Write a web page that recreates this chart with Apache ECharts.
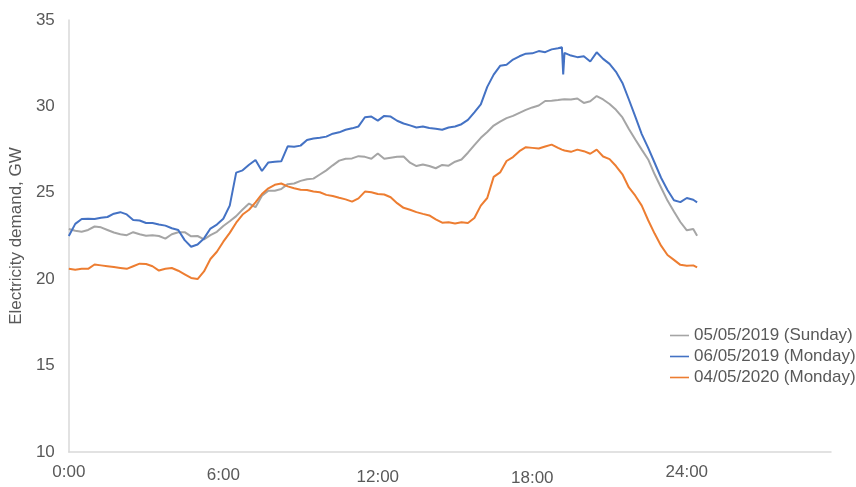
<!DOCTYPE html>
<html>
<head>
<meta charset="utf-8">
<script src="https://cdn.jsdelivr.net/npm/echarts@6/dist/echarts.min.js"></script>
<style>
  html, body { margin: 0; padding: 0; background: #ffffff; }
  #chart { width: 856px; height: 487px; }
</style>
</head>
<body>
<div id="chart"></div>
<script>
// Time of day in hours (quarter-hour readings, with extra samples around the 19:10 dip)
const hours = [
  0, 0.25, 0.5, 0.75, 1, 1.25, 1.5, 1.75, 2, 2.25, 2.5, 2.75, 3, 3.25, 3.5, 3.75,
  4, 4.25, 4.5, 4.75, 5, 5.25, 5.5, 5.75, 6, 6.25, 6.5, 6.75, 7, 7.25, 7.5, 7.75,
  8, 8.25, 8.5, 8.75, 9, 9.25, 9.5, 9.75, 10, 10.25, 10.5, 10.75, 11, 11.25, 11.5, 11.75,
  12, 12.25, 12.5, 12.75, 13, 13.25, 13.5, 13.75, 14, 14.25, 14.5, 14.75, 15, 15.25, 15.5, 15.75,
  16, 16.25, 16.5, 16.75, 17, 17.25, 17.5, 17.75, 18, 18.25, 18.5, 18.75,
  19, 19.15, 19.2, 19.25,
  19.5, 19.75, 20, 20.25, 20.5, 20.75, 21, 21.25, 21.5, 21.75, 22, 22.25, 22.5, 22.75,
  23, 23.25, 23.5, 23.75, 24, 24.25,
  24.4
];

// Electricity demand, GW
const sunday2019 = [
  22.9, 22.8, 22.75, 22.85, 23.05, 23.0, 22.85, 22.7, 22.6, 22.55, 22.72, 22.6, 22.52, 22.55, 22.5, 22.35,
  22.6, 22.72, 22.72, 22.48, 22.5, 22.3, 22.55, 22.74, 23.08, 23.35, 23.65, 24.03, 24.38, 24.17, 24.83, 25.12,
  25.12, 25.22, 25.5, 25.54, 25.69, 25.78, 25.82, 26.06, 26.3, 26.59, 26.86, 26.97, 26.99, 27.12, 27.08, 26.97,
  27.28, 26.97, 27.03, 27.09, 27.1, 26.74, 26.55, 26.64, 26.55, 26.42, 26.61, 26.57, 26.8, 26.93, 27.32, 27.76,
  28.18, 28.52, 28.89, 29.12, 29.32, 29.45, 29.63, 29.8, 29.94, 30.05, 30.31, 30.33,
  30.37, 30.4, 30.4, 30.42,
  30.4, 30.46, 30.2, 30.3, 30.6, 30.4, 30.14, 29.8, 29.36, 28.69, 28.08, 27.5, 26.93, 26.07,
  25.31, 24.55, 23.92, 23.31, 22.83, 22.9,
  22.51
];

const monday2019 = [
  22.5, 23.2, 23.48, 23.5, 23.48, 23.56, 23.6, 23.79, 23.88, 23.75, 23.43, 23.4, 23.25, 23.25, 23.17, 23.1,
  22.95, 22.85, 22.26, 21.88, 22.01, 22.36, 22.93, 23.16, 23.5, 24.26, 26.17, 26.3, 26.62, 26.9, 26.26, 26.76,
  26.8, 26.82, 27.69, 27.66, 27.73, 28.05, 28.14, 28.18, 28.25, 28.42, 28.5, 28.65, 28.73, 28.84, 29.37, 29.41,
  29.18, 29.45, 29.41, 29.17, 29.01, 28.9, 28.78, 28.84, 28.75, 28.71, 28.65, 28.78, 28.84, 28.97, 29.22, 29.66,
  30.12, 31.13, 31.84, 32.35, 32.41, 32.71, 32.9, 33.05, 33.07, 33.2, 33.14, 33.3,
  33.37, 33.42, 31.85, 33.1,
  32.94, 32.85, 32.9, 32.6, 33.13, 32.75, 32.46, 32.0, 31.36, 30.4, 29.41, 28.4, 27.6, 26.74,
  25.87, 25.16, 24.57, 24.46, 24.7, 24.6,
  24.45
];

const monday2020 = [
  20.6, 20.55, 20.6, 20.6, 20.85, 20.8, 20.75, 20.7, 20.65, 20.6, 20.75, 20.9, 20.88, 20.75, 20.5, 20.6,
  20.65, 20.49, 20.28, 20.07, 20.01, 20.45, 21.17, 21.59, 22.17, 22.68, 23.27, 23.74, 24.02, 24.45, 24.93, 25.26,
  25.46, 25.54, 25.37, 25.26, 25.18, 25.16, 25.07, 25.03, 24.88, 24.81, 24.71, 24.62, 24.49, 24.68, 25.07, 25.03,
  24.93, 24.9, 24.74, 24.4, 24.13, 24.02, 23.88, 23.78, 23.69, 23.46, 23.27, 23.29, 23.22, 23.29, 23.25, 23.54,
  24.26, 24.7, 25.92, 26.18, 26.84, 27.07, 27.41, 27.64, 27.6, 27.56, 27.68, 27.79,
  27.6, 27.5, 27.47, 27.45,
  27.37, 27.5, 27.41, 27.26, 27.5, 27.1, 26.95, 26.55, 26.07, 25.31, 24.83, 24.26, 23.41, 22.64,
  21.94, 21.4, 21.12, 20.83, 20.78, 20.8,
  20.68
];

const seriesNames = ['05/05/2019 (Sunday)', '06/05/2019 (Monday)', '04/05/2020 (Monday)'];
const seriesColors = ['#A5A5A5', '#4472C4', '#ED7D31'];
const hourTicks = [0, 6, 12, 18, 24];

const FONT = '"Liberation Sans", Arial, sans-serif';
const TEXT = '#595959';
const AXIS = '#D9D9D9';

// slight per-label drop of the time labels under the axis
const labelDrop = { 0: 0, 6: 3, 12: 5, 18: 6, 24: 0 };
const richLabels = {};
Object.keys(labelDrop).forEach(function (k) {
  richLabels['t' + k] = {
    color: TEXT, fontSize: 17, fontFamily: FONT,
    padding: [labelDrop[k], 0, 0, 0]
  };
});

function pairs(values) {
  return hours.map(function (h, i) { return [h, values[i]]; });
}

const chart = echarts.init(document.getElementById('chart'), null, { renderer: 'canvas' });

chart.setOption({
  backgroundColor: '#ffffff',
  animation: false,
  textStyle: { fontFamily: FONT, color: TEXT },
  grid: { left: 67, right: 25, top: 20, bottom: 31, containLabel: false },
  legend: {
    orient: 'vertical',
    left: 665,
    top: 322,
    itemWidth: 19,
    itemHeight: 14,
    itemGap: 4,
    icon: 'path://M0,6 L19,6 L19,7.6 L0,7.6 Z',
    textStyle: { color: TEXT, fontSize: 17, fontFamily: FONT },
    data: seriesNames
  },
  xAxis: {
    type: 'value',
    min: 0,
    max: 29.6,
    interval: 6,
    axisLine: { show: true, onZero: false, lineStyle: { color: AXIS, width: 1.5 } },
    axisTick: { show: false },
    splitLine: { show: false },
    axisLabel: {
      margin: 12,
      showMaxLabel: false,
      color: TEXT,
      fontSize: 17,
      fontFamily: FONT,
      formatter: function (v) {
        if (hourTicks.indexOf(v) < 0) return '';
        return '{t' + v + '|' + v + ':00}';
      },
      rich: richLabels
    }
  },
  yAxis: {
    type: 'value',
    min: 10,
    max: 35,
    interval: 5,
    name: 'Electricity demand, GW',
    nameLocation: 'middle',
    nameGap: 39,
    nameTextStyle: { color: TEXT, fontSize: 17, fontFamily: FONT },
    axisLine: { show: true, onZero: false, lineStyle: { color: AXIS, width: 1.5 } },
    axisTick: { show: false },
    splitLine: { show: false },
    axisLabel: { margin: 14, color: TEXT, fontSize: 17, fontFamily: FONT }
  },
  series: [
    { name: seriesNames[0], data: pairs(sunday2019) },
    { name: seriesNames[1], data: pairs(monday2019) },
    { name: seriesNames[2], data: pairs(monday2020) }
  ].map(function (s, i) {
    return {
      name: s.name,
      type: 'line',
      data: s.data,
      symbol: 'none',
      smooth: false,
      color: seriesColors[i],
      lineStyle: { color: seriesColors[i], width: 2 },
      itemStyle: { color: seriesColors[i] }
    };
  })
});
</script>
</body>
</html>
